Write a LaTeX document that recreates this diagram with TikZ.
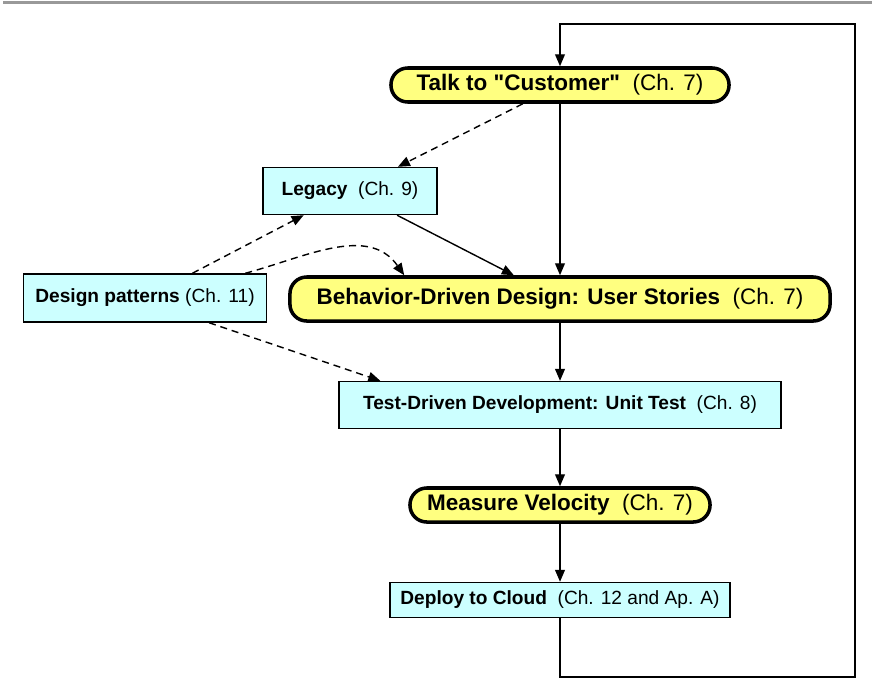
\documentclass[tikz,border=0pt]{standalone}
\usepackage{fontspec}
\setmainfont{Liberation Sans}
\usetikzlibrary{arrows.meta,calc}
\definecolor{stageyellow}{HTML}{FFFF80}
\definecolor{taskcyan}{HTML}{CCFFFF}

\begin{document}
\begin{tikzpicture}[x=0.025cm, y=-0.025cm,
    >={Triangle[length=8.5pt,width=7pt]},
    stage/.style={draw, line width=2.5pt, fill=stageyellow, rounded corners=0.42cm,
      inner sep=0pt, font=\fontsize{16}{19}\selectfont},
    task/.style={draw, line width=1pt, fill=taskcyan, inner sep=0pt,
      font=\fontsize{13.6}{16}\selectfont},
    flow/.style={->, line width=1pt},
    hint/.style={->, line width=1pt, dash pattern=on 5pt off 3.5pt}]
  \useasboundingbox (0,0) rectangle (872,696);
  \draw[line width=2.1pt, black!40] (3,2.5) -- (872,2.5);
  % main cycle
  \node[stage, minimum width=8.45cm, minimum height=0.85cm] (talk) at (560,85)
    {\textbf{Talk to \textquotedbl Customer\textquotedbl}\ \ (Ch. 7)};
  \node[stage, minimum width=13.5cm, minimum height=1.1cm] (bdd) at (560,299)
    {\textbf{Behavior-Driven Design: User Stories}\ \ (Ch. 7)};
  \node[task, minimum width=11.05cm, minimum height=1.175cm] (tdd) at (560,405)
    {\textbf{Test-Driven Development: Unit Test}\ \ (Ch. 8)};
  \node[stage, minimum width=7.5cm, minimum height=0.85cm] (velocity) at (560,505)
    {\textbf{Measure Velocity}\ \ (Ch. 7)};
  \node[task, minimum width=8.5cm, minimum height=0.875cm] (deploy) at (560,600)
    {\textbf{Deploy to Cloud}\ \ (Ch. 12 and Ap. A)};
  % side tasks
  \node[task, minimum width=4.35cm, minimum height=1.175cm] (legacy) at (350,191)
    {\textbf{Legacy}\ \ (Ch. 9)};
  \node[task, minimum width=6.075cm, minimum height=1.2cm] (patterns) at (145,298)
    {\textbf{Design patterns} (Ch. 11)};
  \coordinate (loopbr) at (855,677);
  \coordinate (looptr) at (855,24);

  \draw[flow] (talk) -- (bdd);
  \draw[flow] (bdd) -- (tdd);
  \draw[flow] (tdd) -- (velocity);
  \draw[flow] (velocity) -- (deploy);
  \draw[flow] (deploy.south) |- (loopbr) -- (looptr) -| (talk.north);
  \draw[flow] (legacy) -- (bdd);
  \draw[hint] (talk) -- (legacy);
  \draw[hint] (patterns) -- (legacy);
  \draw[hint] ([xshift=-0.55cm]patterns.north east) to[out=15,in=125]
    ([xshift=2.9cm]bdd.north west);
  \draw[hint] ([xshift=1.6cm]patterns.south) -- ([xshift=1.05cm]tdd.north west);
\end{tikzpicture}
\end{document}
